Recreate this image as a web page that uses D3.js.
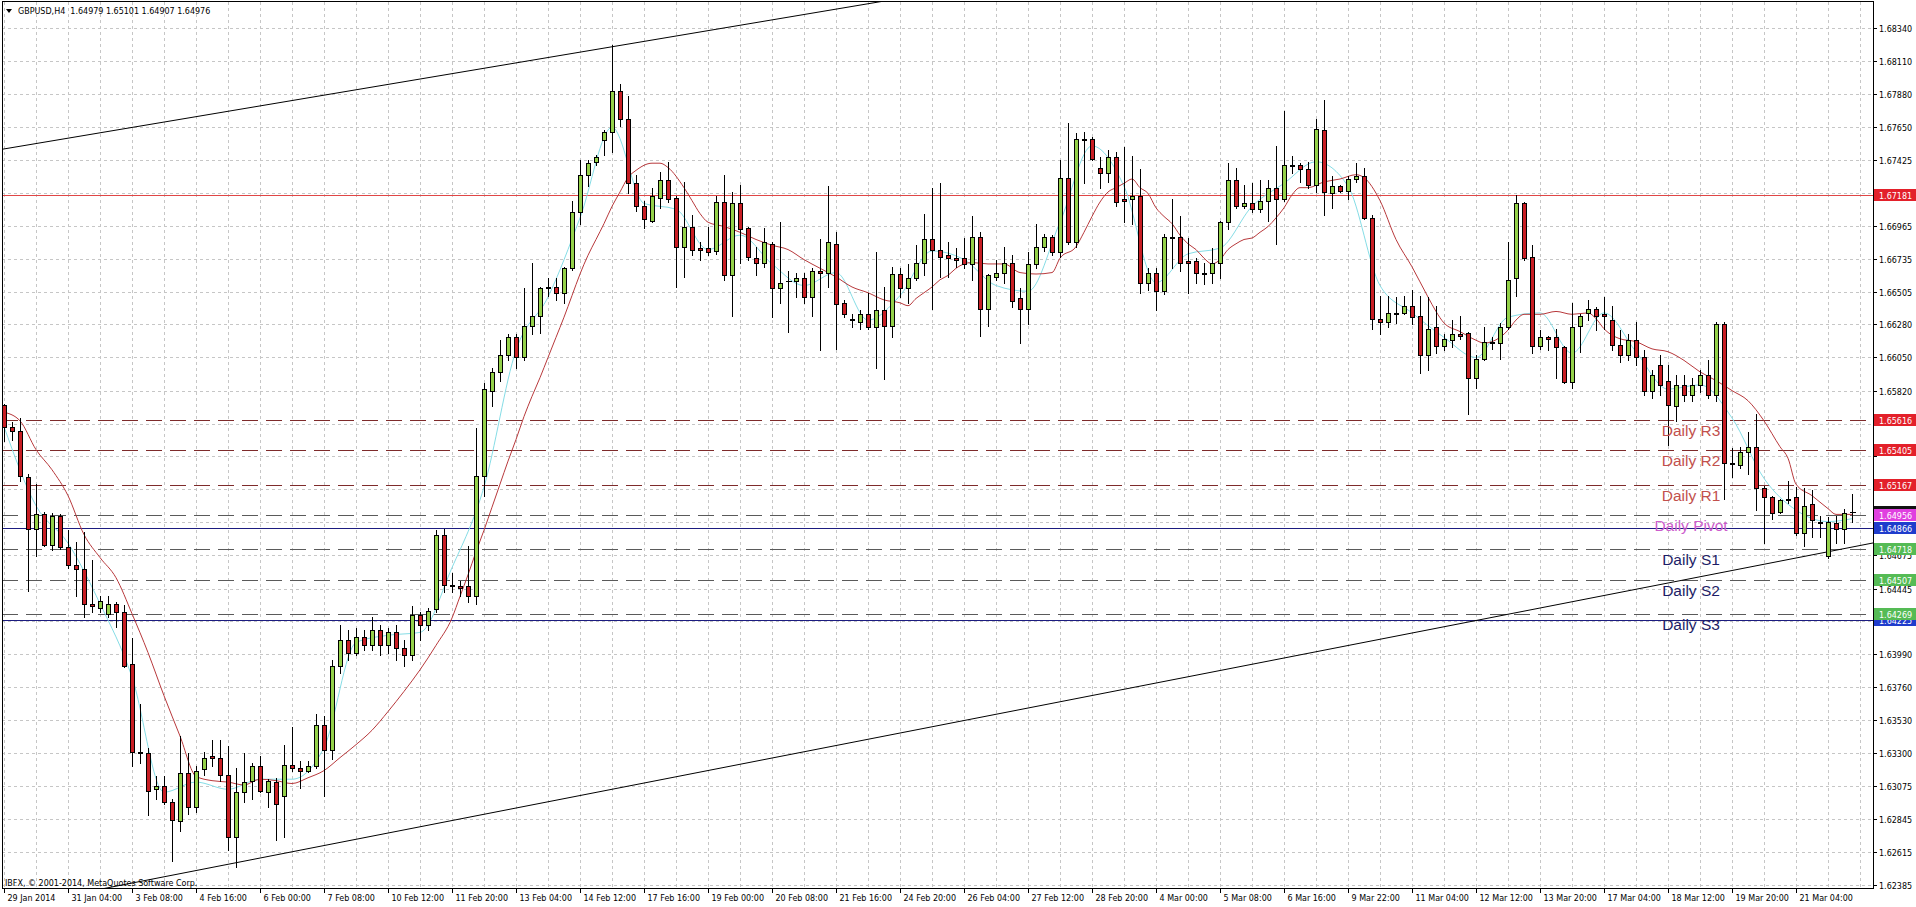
<!DOCTYPE html>
<html><head><meta charset="utf-8">
<script src="https://cdn.jsdelivr.net/npm/d3@7"></script>
<style>
body{margin:0;background:#fff;overflow:hidden;}
svg{display:block;}
</style>
</head><body>
<svg id="c" width="1916" height="907"></svg>
<script>
// ---------------- DATA (GBPUSD H4) ----------------
const symbolTitle = "GBPUSD,H4";
const lastQuote = ["1.64979","1.65101","1.64907","1.64976"];
const copyright = "IBFX, \u00a9 2001-2014, MetaQuotes Software Corp.";

const timeLabels = ["29 Jan 2014","31 Jan 04:00","3 Feb 08:00","4 Feb 16:00","6 Feb 00:00","7 Feb 08:00",
"10 Feb 12:00","11 Feb 20:00","13 Feb 04:00","14 Feb 12:00","17 Feb 16:00","19 Feb 00:00","20 Feb 08:00",
"21 Feb 16:00","24 Feb 20:00","26 Feb 04:00","27 Feb 12:00","28 Feb 20:00","4 Mar 00:00","5 Mar 08:00",
"6 Mar 16:00","9 Mar 22:00","11 Mar 04:00","12 Mar 12:00","13 Mar 20:00","17 Mar 04:00","18 Mar 12:00",
"19 Mar 20:00","21 Mar 04:00"];
const barsPerLabel = 8;

const priceTicks = [1.68340,1.68110,1.67880,1.67650,1.67425,1.67195,1.66965,1.66735,1.66505,1.66280,
1.66050,1.65820,1.65590,1.65365,1.65135,1.64905,1.64675,1.64445,1.64220,1.63990,1.63760,1.63530,
1.63300,1.63075,1.62845,1.62615,1.62385];

const open = [1.6572,1.6557,1.6554,1.6522,1.6486,1.6496,1.6475,1.6495,1.6473,1.6461,
1.6458,1.6434,1.6431,1.6427,1.6434,1.6428,1.6392,1.6331,1.6330,1.6305,
1.6307,1.6296,1.6283,1.6316,1.6293,1.6319,1.6328,1.6327,1.6315,1.6272,
1.6303,1.6311,1.6321,1.6303,1.6310,1.6300,1.6322,1.6320,1.6318,1.6321,
1.6350,1.6332,1.6391,1.6409,1.6400,1.6411,1.6405,1.6416,1.6405,1.6414,
1.6403,1.6398,1.6426,1.6419,1.6430,1.6482,1.6447,1.6446,1.6446,1.6439,
1.6523,1.6582,1.6595,1.6607,1.6619,1.6605,1.6627,1.6634,1.6654,1.6654,
1.6650,1.6667,1.6706,1.6732,1.6741,1.6756,1.6762,1.6790,1.6771,1.6726,
1.6710,1.6700,1.6716,1.6728,1.6716,1.6682,1.6696,1.6681,1.6681,1.6679,
1.6713,1.6662,1.6712,1.6695,1.6674,1.6671,1.6684,1.6653,1.6658,1.6658,
1.6660,1.6647,1.6665,1.6664,1.6684,1.6643,1.6632,1.6630,1.6635,1.6626,
1.6638,1.6627,1.6663,1.6653,1.6660,1.6671,1.6687,1.6680,1.6676,1.6674,
1.6674,1.6670,1.6689,1.6639,1.6661,1.6664,1.6671,1.6646,1.6639,1.6670,
1.6682,1.6689,1.6678,1.6730,1.6685,1.6757,1.6757,1.6737,1.6733,1.6744,
1.6715,1.6715,1.6717,1.6657,1.6664,1.6651,1.6689,1.6689,1.6672,1.6672,
1.6664,1.6664,1.6671,1.6699,1.6728,1.6710,1.6712,1.6708,1.6714,1.6723,
1.6715,1.6739,1.6739,1.6736,1.6725,1.6763,1.6719,1.6724,1.6721,1.6729,
1.6731,1.6702,1.6632,1.6630,1.6636,1.6636,1.6641,1.6634,1.6607,1.6626,
1.6613,1.6617,1.6621,1.6622,1.6591,1.6604,1.6616,1.6615,1.6626,1.6660,
1.6712,1.6675,1.6613,1.6619,1.6619,1.6612,1.6588,1.6627,1.6636,1.6639,
1.6635,1.6631,1.6614,1.6607,1.6617,1.6605,1.6582,1.6600,1.6589,1.6571,
1.6586,1.6579,1.6586,1.6593,1.6579,1.6628,1.6532,1.6530,1.6539,1.6543,
1.6514,1.6508,1.6498,1.6506,1.6508,1.6483,1.6503,1.6491,1.6467,1.6490,
1.6486,1.64979];

const high = [1.6573,1.6560,1.6563,1.6524,1.6517,1.6498,1.6497,1.6496,1.6485,1.6477,
1.6484,1.6464,1.6439,1.6439,1.6435,1.6433,1.6410,1.6364,1.6334,1.6314,
1.6314,1.6298,1.6342,1.6330,1.6321,1.6331,1.6339,1.6339,1.6335,1.6320,
1.6330,1.6323,1.6328,1.6312,1.6313,1.6336,1.6348,1.6325,1.6325,1.6357,
1.6356,1.6395,1.6419,1.6416,1.6417,1.6416,1.6425,1.6419,1.6417,1.6419,
1.6409,1.6432,1.6428,1.6431,1.6485,1.6486,1.6455,1.6450,1.6474,1.6556,
1.6587,1.6598,1.6617,1.6621,1.6621,1.6653,1.6671,1.6654,1.6660,1.6660,
1.6668,1.6714,1.6742,1.6742,1.6746,1.6763,1.6822,1.6795,1.6787,1.6732,
1.6714,1.6723,1.6734,1.6741,1.6717,1.6727,1.6704,1.6685,1.6696,1.6717,
1.6732,1.6720,1.6725,1.6696,1.6682,1.6695,1.6685,1.6699,1.6665,1.6664,
1.6664,1.6667,1.6687,1.6724,1.6692,1.6645,1.6635,1.6638,1.6650,1.6678,
1.6654,1.6668,1.6667,1.6670,1.6683,1.6705,1.6723,1.6726,1.6685,1.6681,
1.6688,1.6703,1.6692,1.6663,1.6673,1.6682,1.6676,1.6653,1.6678,1.6698,
1.6691,1.6690,1.6742,1.6768,1.6761,1.6762,1.6758,1.6744,1.6749,1.6748,
1.6751,1.6745,1.6736,1.6667,1.6667,1.6691,1.6715,1.6703,1.6688,1.6674,
1.6671,1.6681,1.6700,1.6740,1.6737,1.6725,1.6726,1.6728,1.6728,1.6752,
1.6776,1.6745,1.6740,1.6741,1.6771,1.6784,1.6731,1.6725,1.6731,1.6740,
1.6737,1.6704,1.6648,1.6648,1.6647,1.6648,1.6652,1.6648,1.6647,1.6641,
1.6621,1.6631,1.6634,1.6623,1.6607,1.6626,1.6619,1.6629,1.6685,1.6718,
1.6713,1.6683,1.6624,1.6620,1.6625,1.6613,1.6643,1.6635,1.6645,1.6640,
1.6647,1.6641,1.6624,1.6621,1.6630,1.6610,1.6596,1.6607,1.6600,1.6593,
1.6593,1.6591,1.6596,1.6603,1.6630,1.6630,1.6542,1.6543,1.6553,1.6566,
1.6516,1.6509,1.6507,1.6519,1.6515,1.6514,1.6513,1.6495,1.6494,1.6495,
1.6500,1.65101];

const low = [1.6547,1.6548,1.6519,1.6443,1.6467,1.6474,1.6471,1.6472,1.6459,1.6439,
1.6425,1.6428,1.6428,1.6425,1.6418,1.6390,1.6321,1.6323,1.6287,1.6298,
1.6295,1.6255,1.6276,1.6288,1.6289,1.6315,1.6321,1.6311,1.6263,1.6251,
1.6296,1.6298,1.6303,1.6293,1.6270,1.6272,1.6318,1.6306,1.6317,1.6320,
1.6300,1.6326,1.6386,1.6395,1.6398,1.6402,1.6402,1.6398,1.6400,1.6395,
1.6391,1.6395,1.6409,1.6416,1.6428,1.6442,1.6442,1.6439,1.6435,1.6434,
1.6509,1.6571,1.6589,1.6603,1.6598,1.6603,1.6621,1.6622,1.6648,1.6645,
1.6643,1.6666,1.6698,1.6724,1.6739,1.6746,1.6748,1.6766,1.6719,1.6707,
1.6695,1.6699,1.6709,1.6713,1.6654,1.6661,1.6676,1.6673,1.6676,1.6677,
1.6659,1.6634,1.6671,1.6673,1.6662,1.6668,1.6633,1.6643,1.6623,1.6647,
1.6643,1.6634,1.6610,1.6654,1.6611,1.6633,1.6626,1.6625,1.6625,1.6598,
1.6590,1.6619,1.6647,1.6643,1.6659,1.6662,1.6639,1.6661,1.6661,1.6668,
1.6667,1.6659,1.6620,1.6627,1.6659,1.6657,1.6640,1.6615,1.6628,1.6667,
1.6679,1.6676,1.6675,1.6684,1.6682,1.6726,1.6742,1.6723,1.6727,1.6710,
1.6699,1.6698,1.6650,1.6652,1.6638,1.6649,1.6667,1.6665,1.6650,1.6657,
1.6656,1.6657,1.6660,1.6694,1.6709,1.6709,1.6706,1.6706,1.6700,1.6684,
1.6714,1.6733,1.6727,1.6723,1.6720,1.6704,1.6709,1.6720,1.6715,1.6727,
1.6701,1.6625,1.6621,1.6626,1.6629,1.6635,1.6628,1.6594,1.6596,1.6608,
1.6610,1.6612,1.6618,1.6566,1.6584,1.6603,1.6611,1.6604,1.6625,1.6648,
1.6673,1.6608,1.6611,1.6610,1.6591,1.6587,1.6584,1.6609,1.6631,1.6624,
1.6625,1.6610,1.6602,1.6603,1.6600,1.6579,1.6577,1.6579,1.6544,1.6561,
1.6575,1.6575,1.6581,1.6577,1.6575,1.6507,1.6522,1.6528,1.6524,1.6499,
1.6476,1.6493,1.6497,1.6504,1.6482,1.6474,1.6480,1.6480,1.6466,1.6476,
1.6476,1.64907];

const close = [1.6557,1.6554,1.6523,1.6486,1.6496,1.6475,1.6495,1.6473,1.6461,1.6458,
1.6434,1.6432,1.6436,1.6434,1.6428,1.6391,1.6331,1.6330,1.6304,1.6307,
1.6296,1.6284,1.6316,1.6293,1.6318,1.6327,1.6327,1.6315,1.6272,1.6303,
1.6310,1.6321,1.6304,1.6311,1.6295,1.6322,1.6320,1.6318,1.6321,1.6350,
1.6332,1.6391,1.6409,1.6400,1.6411,1.6405,1.6416,1.6405,1.6414,1.6403,
1.6398,1.6426,1.6419,1.6429,1.6482,1.6447,1.6446,1.6445,1.6439,1.6523,
1.6583,1.6595,1.6607,1.6619,1.6605,1.6627,1.6634,1.6653,1.6653,1.6650,
1.6667,1.6706,1.6732,1.6740,1.6744,1.6762,1.6790,1.6771,1.6726,1.6710,
1.6701,1.6717,1.6728,1.6715,1.6682,1.6696,1.6680,1.6680,1.6678,1.6713,
1.6662,1.6712,1.6694,1.6675,1.6671,1.6685,1.6653,1.6657,1.6658,1.6660,
1.6647,1.6665,1.6664,1.6685,1.6642,1.6635,1.6631,1.6635,1.6626,1.6638,
1.6627,1.6663,1.6653,1.6660,1.6671,1.6687,1.6680,1.6675,1.6674,1.6673,
1.6670,1.6689,1.6639,1.6662,1.6664,1.6671,1.6644,1.6639,1.6670,1.6682,
1.6689,1.6678,1.6730,1.6685,1.6757,1.6756,1.6743,1.6733,1.6744,1.6713,
1.6714,1.6717,1.6657,1.6664,1.6651,1.6689,1.6688,1.6671,1.6671,1.6664,
1.6663,1.6671,1.6699,1.6728,1.6710,1.6712,1.6708,1.6714,1.6723,1.6715,
1.6739,1.6738,1.6736,1.6725,1.6764,1.6720,1.6724,1.6721,1.6729,1.6731,
1.6702,1.6632,1.6630,1.6636,1.6635,1.6641,1.6633,1.6607,1.6625,1.6613,
1.6618,1.6621,1.6620,1.6591,1.6604,1.6616,1.6615,1.6626,1.6659,1.6712,
1.6674,1.6613,1.6619,1.6618,1.6612,1.6588,1.6626,1.6634,1.6639,1.6634,
1.6634,1.6614,1.6607,1.6617,1.6605,1.6582,1.6593,1.6586,1.6572,1.6586,
1.6579,1.6586,1.6593,1.6579,1.6628,1.6532,1.6531,1.6539,1.6543,1.6514,
1.6508,1.6497,1.6506,1.6507,1.6483,1.6502,1.6492,1.6490,1.6491,1.6486,
1.6497,1.64976];

// slow moving average (red), read at bar indices
const maSlowIdx = [0,2,4,6,8,10,12,14,16,18,20,22,24,26,28,30,32,34,36,38,40,42,44,46,48,50,52,54,56,57,58,59,60,61,62,63,64,65,66,67,68,69,70,71,72,73,74,75,76,77,78,79,81,82,83,85,86,87,88,90,92,94,96,98,100,102,104,106,108,110,112,113,114,115,116,117,118,119,120,121,123,125,127,129,131,132,134,135,136,137,138,139,140,141,142,143,144,145,146,147,148,149,150,151,152,153,154,155,156,157,158,159,160,161,162,163,165,167,169,170,172,174,176,178,179,180,182,184,185,187,188,189,190,192,194,196,198,199,200,202,204,206,208,210,212,214,216,218,220,222,223,224,226,228,229,231];
const maSlow = [1.6567,1.6561,1.6541,1.6527,1.6509,1.6482,1.6466,1.6452,1.6427,1.6400,1.6370,1.6342,1.6314,1.6311,1.6310,1.6308,1.6312,1.6311,1.6309,1.6313,1.6318,1.6327,1.6336,1.6346,1.6359,1.6373,1.6388,1.6405,1.6424,1.6439,1.6454,1.6470,1.6485,1.6501,1.6517,1.6533,1.6548,1.6564,1.6578,1.6591,1.6605,1.6619,1.6633,1.6648,1.6663,1.6676,1.6687,1.6698,1.6710,1.6720,1.6730,1.6735,1.6740,1.6740,1.6737,1.6723,1.6714,1.6705,1.6699,1.6696,1.6692,1.6687,1.6683,1.6680,1.6673,1.6667,1.6661,1.6654,1.6650,1.6645,1.6643,1.6641,1.6646,1.6650,1.6654,1.6659,1.6662,1.6667,1.6670,1.6671,1.6670,1.6670,1.6664,1.6663,1.6664,1.6674,1.6682,1.6692,1.6703,1.6713,1.6720,1.6723,1.6726,1.6729,1.6723,1.6719,1.6709,1.6703,1.6698,1.6690,1.6684,1.6680,1.6674,1.6670,1.6673,1.6680,1.6684,1.6687,1.6688,1.6692,1.6696,1.6702,1.6709,1.6718,1.6723,1.6723,1.6727,1.6729,1.6732,1.6730,1.6714,1.6687,1.6668,1.6647,1.6637,1.6629,1.6623,1.6617,1.6615,1.6619,1.6624,1.6631,1.6635,1.6635,1.6637,1.6635,1.6636,1.6632,1.6625,1.6618,1.6616,1.6611,1.6609,1.6603,1.6595,1.6589,1.6582,1.6575,1.6561,1.6543,1.6535,1.6517,1.6509,1.6500,1.6496,1.6496];

// fast moving average (aqua), read every 4 bars
const maFastIdx = [0,4,8,12,16,20,24,28,32,36,40,44,48,52,56,60,64,68,72,76,80,84,88,92,96,100,104,108,112,116,120,124,128,132,136,140,144,148,152,156,160,164,168,172,176,180,184,188,192,196,200,204,208,212,216,220,224,228,231];
const maFast = [1.6557,1.6502,1.6476,1.6434,1.6383,1.6303,1.6310,1.6305,1.6312,1.6312,1.6334,1.6407,1.6412,1.6414,1.6459,1.6515,1.6610,1.6647,1.6702,1.6765,1.6712,1.6708,1.6680,1.6690,1.6670,1.6655,1.6664,1.6631,1.6648,1.6679,1.6673,1.6655,1.6651,1.6699,1.6752,1.6724,1.6657,1.6677,1.6681,1.6710,1.6726,1.6741,1.6724,1.6655,1.6636,1.6619,1.6605,1.6633,1.6636,1.6608,1.6636,1.6609,1.6583,1.6586,1.6563,1.6521,1.6499,1.6491,1.6493];

// horizontal levels
const resistanceLevel = 1.67181;
const pivotNames = ["Daily R3","Daily R2","Daily R1","Daily Pivot","Daily S1","Daily S2","Daily S3"];
const pivotValues = [1.65616,1.65405,1.65167,1.64956,1.64718,1.64507,1.64269];
const blueLevels = [1.64866,1.64225];
const bidPrice = 1.64976;

// trend lines: [bar index, price]
const trendUpper = [[0,1.67499],[100,1.68433]];
const trendLower = [[20,1.62442],[230,1.64722]];

// ---------------- DRAW ----------------
const W = 1916, H = 907;
const L = 2, T = 2, R = 1873, B = 888;
const svg = d3.select("#c");
const FONT = "'DejaVu Sans', Tahoma, sans-serif";

const x = d3.scaleLinear().domain([0, 231]).range([4, 1852]);
const y = d3.scaleLinear().domain([1.62385, 1.68110]).range([885, 61]);
const cx = i => Math.round(x(i)) + 0.5;
const cy = v => Math.round(y(v)) + 0.5;

svg.append("rect").attr("width", W).attr("height", H).attr("fill", "#fff");
svg.append("defs").append("clipPath").attr("id", "pc")
  .append("rect").attr("x", L).attr("y", T).attr("width", R - L).attr("height", B - T);
const g = svg.append("g").attr("clip-path", "url(#pc)");

// grid
g.selectAll("line.hg").data(priceTicks).join("line").attr("class", "hg")
  .attr("x1", L).attr("x2", R).attr("y1", d => cy(d)).attr("y2", d => cy(d))
  .attr("stroke", "#c6c6c6").attr("stroke-dasharray", "3,3");
const gridBars = d3.range(0, 236, barsPerLabel / 2);
g.selectAll("line.vg").data(gridBars).join("line").attr("class", "vg")
  .attr("x1", d => cx(d)).attr("x2", d => cx(d)).attr("y1", T).attr("y2", B)
  .attr("stroke", "#c6c6c6").attr("stroke-dasharray", "3,3");

// horizontal levels
const hline = (v, color, dash, w) => g.append("line")
  .attr("x1", L).attr("x2", R).attr("y1", cy(v)).attr("y2", cy(v))
  .attr("stroke", color).attr("stroke-width", w || 1).attr("stroke-dasharray", dash || null);
hline(resistanceLevel, "#e04646");
pivotValues.forEach((v, i) => {
  const col = i < 3 ? "#7e2b2b" : "#5a5a5a";
  hline(v, col, "16,8");
});
blueLevels.forEach(v => hline(v, "#1c1c80"));

// trend lines
function extend(p) {
  const s = (p[1][1] - p[0][1]) / (p[1][0] - p[0][0]);
  return [[-3, p[0][1] + s * (-3 - p[0][0])], [240, p[0][1] + s * (240 - p[0][0])]];
}
const tl = d3.line().x(d => x(d[0])).y(d => y(d[1]));
[trendUpper, trendLower].forEach(t => g.append("path").attr("d", tl(extend(t)))
  .attr("fill", "none").attr("stroke", "#000").attr("stroke-width", 1));

// moving averages
const maLine = d3.line().x(d => x(d[0])).y(d => y(d[1])).curve(d3.curveMonotoneX);
g.append("path").attr("d", maLine(maFastIdx.map((k, i) => [k, maFast[i]])))
  .attr("fill", "none").attr("stroke", "#86dde6").attr("stroke-width", 1);
g.append("path").attr("d", maLine(maSlowIdx.map((k, i) => [k, maSlow[i]])))
  .attr("fill", "none").attr("stroke", "#b8393c").attr("stroke-width", 1);

// candles
const bars = open.map((o, i) => ({ i, o, h: high[i], l: low[i], c: close[i] }));
const cg = g.selectAll("g.bar").data(bars).join("g").attr("class", "bar");
cg.append("line").attr("x1", d => cx(d.i)).attr("x2", d => cx(d.i))
  .attr("y1", d => cy(d.h) - 0.5).attr("y2", d => cy(d.l) + 0.5).attr("stroke", "#000");
cg.each(function (d) {
  const top = cy(Math.max(d.o, d.c)), bot = cy(Math.min(d.o, d.c));
  const sel = d3.select(this);
  if (bot - top < 1) {
    sel.append("line").attr("x1", cx(d.i) - 2.5).attr("x2", cx(d.i) + 3.5)
      .attr("y1", top).attr("y2", top).attr("stroke", "#000");
  } else {
    sel.append("rect").attr("x", cx(d.i) - 2).attr("y", top).attr("width", 4).attr("height", bot - top)
      .attr("fill", d.c > d.o ? "#94d14a" : "#c81e24").attr("stroke", "#000").attr("stroke-width", 1);
  }
});

// pivot level texts
const pivotColor = i => i < 3 ? "#c2504c" : (i === 3 ? "#cc5ccc" : "#1d1d66");
pivotNames.forEach((n, i) => {
  g.append("text").attr("x", 1691).attr("y", cy(pivotValues[i]) + 15).attr("text-anchor", "middle")
    .attr("font-family", "'Liberation Sans', Arial, sans-serif").attr("font-size", 15.5)
    .attr("fill", pivotColor(i)).text(n);
});

// copyright
svg.append("text").attr("x", 5).attr("y", 886).attr("font-family", FONT).attr("font-size", 8)
  .attr("fill", "#000").text(copyright);

// frame
svg.append("rect").attr("x", L + 0.5).attr("y", T - 0.5).attr("width", R - L).attr("height", B - T + 1)
  .attr("fill", "none").attr("stroke", "#000");

// header
svg.append("path").attr("d", "M6,9 L12,9 L9,13 Z").attr("fill", "#000");
svg.append("text").attr("x", 18).attr("y", 14).attr("font-family", FONT).attr("font-size", 8)
  .attr("fill", "#000").attr("xml:space", "preserve")
  .text(symbolTitle + "  " + lastQuote.join(" "));

// right price axis
const tagValues = [resistanceLevel, bidPrice].concat(pivotValues, blueLevels);
const visibleTicks = priceTicks.filter(v => d3.min(tagValues, t => Math.abs(y(t) - y(v))) >= 6);
const ax = svg.append("g");
ax.selectAll("line.pt").data(priceTicks).join("line").attr("x1", R).attr("x2", R + 4)
  .attr("y1", d => cy(d)).attr("y2", d => cy(d)).attr("stroke", "#000");
ax.selectAll("text.pt").data(visibleTicks).join("text").attr("x", R + 6).attr("y", d => cy(d) + 3)
  .attr("font-family", FONT).attr("font-size", 8).attr("fill", "#000").text(d => d.toFixed(5));

// price tags
function tag(v, bg) {
  ax.append("rect").attr("x", R + 1).attr("y", Math.round(y(v)) - 6).attr("width", W - R - 1).attr("height", 12).attr("fill", bg);
  ax.append("text").attr("x", R + 6).attr("y", Math.round(y(v)) + 3.5).attr("font-family", FONT)
    .attr("font-size", 8).attr("fill", "#fff").text(v.toFixed(5));
}
tag(resistanceLevel, "#e3202a");
tag(blueLevels[1], "#1f3ccc");
tag(bidPrice, "#111");
pivotValues.forEach((v, i) => tag(v, i < 3 ? "#e3202a" : (i === 3 ? "#e040e0" : "#55bb55")));
tag(blueLevels[0], "#1f3ccc");

// bottom time axis
const tb = svg.append("g");
const labelBars = timeLabels.map((t, k) => k * barsPerLabel);
tb.selectAll("line").data(labelBars).join("line").attr("x1", d => cx(d)).attr("x2", d => cx(d))
  .attr("y1", B).attr("y2", B + 5).attr("stroke", "#000");
tb.selectAll("text").data(timeLabels).join("text").attr("x", (d, k) => cx(labelBars[k]) + 3).attr("y", 901)
  .attr("font-family", FONT).attr("font-size", 8).attr("fill", "#000").text(d => d);
</script>
</body></html>
